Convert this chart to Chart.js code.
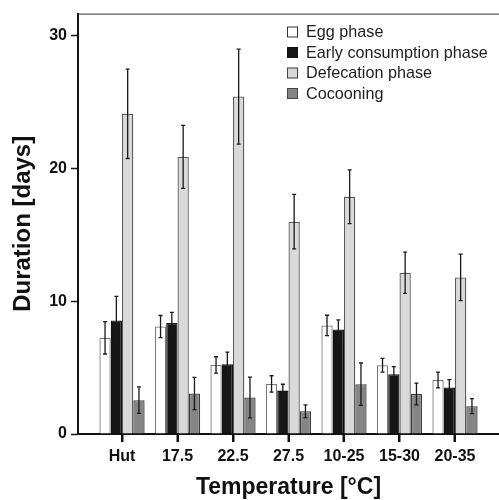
<!DOCTYPE html>
<html>
<head>
<meta charset="utf-8">
<script src="https://cdn.jsdelivr.net/npm/chart.js@4.4.0/dist/chart.umd.min.js"></script>
<style>
    html, body { margin: 0; padding: 0; background: #fff; }
    #wrap { width: 499px; height: 500px; }
</style>
</head>
<body>
<div id="wrap"><canvas id="durationChart"></canvas></div>
<script>
var temperatures = ["Hut", "17.5", "22.5", "27.5", "10-25", "15-30", "20-35"];
var yTicks = [0, 10, 20, 30];

var eggPhase = [7.25, 8.1, 5.2, 3.77, 8.18, 5.18, 4.07];
var eggPhaseErr = [1.22, 0.83, 0.62, 0.62, 0.77, 0.52, 0.6];
var earlyConsumption = [8.55, 8.37, 5.25, 3.27, 7.88, 4.5, 3.5];
var earlyConsumptionErr = [1.82, 0.8, 0.92, 0.48, 0.72, 0.57, 0.6];
var defecation = [24.13, 20.88, 25.43, 16.0, 17.88, 12.15, 11.8];
var defecationErr = [3.37, 2.37, 3.58, 2.05, 2.03, 1.56, 1.75];
var cocooning = [2.55, 3.05, 2.75, 1.72, 3.75, 3.02, 2.1];
var cocooningErr = [1.0, 1.22, 1.53, 0.48, 1.6, 0.82, 0.57];

var fontFamily = "'Liberation Sans', Arial, Helvetica, sans-serif";

function toPoints(values) {
    return values.map((v, i) => ({ x: i, y: v }));
}

function makeSet(label, values, errors, fill, border) {
    return {
        label: label,
        data: toPoints(values),
        errors: errors,
        backgroundColor: fill,
        borderColor: border,
        borderWidth: 1.3,
        borderSkipped: 'bottom',
        barPercentage: 1,
        categoryPercentage: 0.815
    };
}

// error bars, x tick marks, top frame line and the legend box drawn on the canvas
var extrasPlugin = {
    id: 'extras',
    afterDatasetsDraw: function (chart) {
        var ctx = chart.ctx;
        var yScale = chart.scales.y;
        ctx.save();
        ctx.strokeStyle = '#1a1a1a';
        ctx.lineWidth = 1.3;
        chart.data.datasets.forEach((ds, di) => {
            var meta = chart.getDatasetMeta(di);
            meta.data.forEach((bar, i) => {
                var v = ds.data[i].y;
                var e = ds.errors[i];
                var yTop = yScale.getPixelForValue(v + e);
                var yBot = yScale.getPixelForValue(v - e);
                ctx.beginPath();
                ctx.moveTo(bar.x, yTop);
                ctx.lineTo(bar.x, yBot);
                ctx.moveTo(bar.x - 2, yTop);
                ctx.lineTo(bar.x + 2, yTop);
                ctx.moveTo(bar.x - 2, yBot);
                ctx.lineTo(bar.x + 2, yBot);
                ctx.stroke();
            });
        });
        ctx.restore();
    },
    afterDraw: function (chart) {
        var ctx = chart.ctx;
        var area = chart.chartArea;
        var xScale = chart.scales.x;
        ctx.save();
        ctx.strokeStyle = '#333';
        ctx.lineWidth = 1;
        ctx.beginPath();
        ctx.moveTo(area.left, area.top + 0.5);
        ctx.lineTo(area.right, area.top + 0.5);
        ctx.stroke();

        ctx.strokeStyle = '#111';
        ctx.lineWidth = 2;
        ctx.beginPath();
        xScale.ticks.forEach((t, i) => {
            var px = Math.round(xScale.getPixelForTick(i));
            ctx.moveTo(px, area.bottom);
            ctx.lineTo(px, area.bottom + 8);
        });
        ctx.stroke();

        var legendX = 287;
        var legendY = 32;
        var rowGap = 20.5;
        var legendBorders = ['#333', '#111', '#444', '#444'];
        ctx.font = "16.2px " + fontFamily;
        ctx.textBaseline = 'middle';
        chart.data.datasets.forEach((ds, di) => {
            var cy = legendY + di * rowGap;
            ctx.fillStyle = ds.backgroundColor;
            ctx.fillRect(legendX, cy - 5.5, 11, 11);
            ctx.strokeStyle = legendBorders[di];
            ctx.lineWidth = 1;
            ctx.strokeRect(legendX + 0.5, cy - 5, 10, 10);
            ctx.fillStyle = '#1e1e1e';
            ctx.fillText(ds.label, legendX + 19, cy + 1);
        });
        ctx.restore();
    }
};

var config = {
    type: 'bar',
    data: {
        datasets: [
            makeSet('Egg phase', eggPhase, eggPhaseErr, '#ffffff', '#7a7a7a'),
            makeSet('Early consumption phase', earlyConsumption, earlyConsumptionErr, '#161616', '#111111'),
            makeSet('Defecation phase', defecation, defecationErr, '#d9d9d9', '#5a5a5a'),
            makeSet('Cocooning', cocooning, cocooningErr, '#858585', '#3d3d3d')
        ]
    },
    options: {
        responsive: true,
        maintainAspectRatio: false,
        animation: false,
        layout: {
            padding: { top: 12, right: 0, left: 0, bottom: 0 }
        },
        plugins: {
            legend: { display: false },
            tooltip: { enabled: false }
        },
        scales: {
            x: {
                type: 'linear',
                min: -0.793,
                max: 6.793,
                offset: false,
                afterBuildTicks: function (scale) {
                    scale.ticks = temperatures.map((t, i) => ({ value: i }));
                },
                afterFit: function (scale) {
                    scale.height = 66;
                },
                ticks: {
                    color: '#111',
                    padding: 5,
                    maxRotation: 0,
                    autoSkip: false,
                    font: { family: fontFamily, size: 16, weight: 'bold' },
                    callback: function (value) {
                        return temperatures[value];
                    }
                },
                grid: {
                    display: true,
                    offset: false,
                    drawOnChartArea: false,
                    tickLength: 8,
                    tickWidth: 2,
                    tickColor: '#111'
                },
                border: { display: true, color: '#111', width: 2 },
                title: {
                    display: true,
                    text: 'Temperature [°C]',
                    color: '#111',
                    padding: { top: 0, bottom: -1 },
                    font: { family: fontFamily, size: 23, weight: 'bold' }
                }
            },
            y: {
                min: 0,
                max: 31.68,
                afterBuildTicks: function (scale) {
                    scale.ticks = yTicks.map(v => ({ value: v }));
                },
                afterFit: function (scale) {
                    scale.width = 78;
                },
                ticks: {
                    color: '#111',
                    padding: 4,
                    font: { family: fontFamily, size: 16, weight: 'bold' }
                },
                grid: {
                    display: true,
                    drawOnChartArea: false,
                    tickLength: 7,
                    tickWidth: 1.5,
                    tickColor: '#111'
                },
                border: { display: true, color: '#111', width: 2 },
                title: {
                    display: true,
                    text: 'Duration [days]',
                    color: '#111',
                    padding: { top: 9, bottom: 0 },
                    font: { family: fontFamily, size: 24, weight: 'bold' }
                }
            }
        }
    },
    plugins: [extrasPlugin]
};

var durationChart = new Chart(document.getElementById('durationChart'), config);
</script>
</body>
</html>
